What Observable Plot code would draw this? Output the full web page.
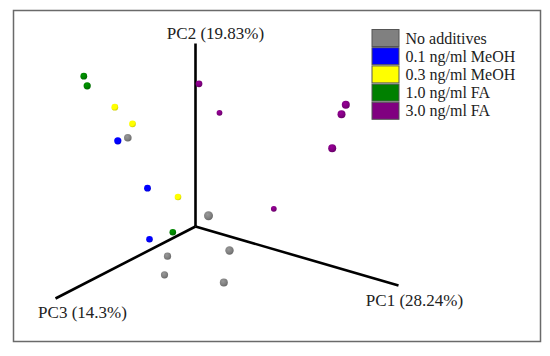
<!DOCTYPE html>
<html><head><meta charset="utf-8">
<script src="https://cdn.jsdelivr.net/npm/d3@7"></script>
<script src="https://cdn.jsdelivr.net/npm/@observablehq/plot@0.6"></script>
<style>body{margin:0;background:#fff;} svg{display:block;} svg text{font-family:"Liberation Serif","Times New Roman",Times,serif !important;}</style>
</head><body><div id="chart"></div>
<script>
// Groups and colours
const groups = ["No additives", "0.1 ng/ml MeOH", "0.3 ng/ml MeOH", "1.0 ng/ml FA", "3.0 ng/ml FA"];
const colors = ["#808080", "#0000ff", "#ffff00", "#008000", "#800080"];

// Projected PCA scores (2-D projection of PC1/PC2/PC3 space), per group
const noAdditivesX = [-67.7, 13, 34, -28, -31, 28.3];
const noAdditivesY = [88.7, 10.7, -24, -29.7, -48.3, -56];
const noAdditivesR = [3.8, 4.5, 4.2, 3.6, 3.6, 4.0];
const meoh01X = [-77.7, -48, -46];
const meoh01Y = [85.7, 38.3, -12.7];
const meoh01R = [3.6, 3.4, 3.3];
const meoh03X = [-80.7, -63, -17.5];
const meoh03Y = [119.3, 102.7, 29.5];
const meoh03R = [3.4, 3.4, 3.3];
const fa10X = [-111.7, -108.3, -22.7];
const fa10Y = [150.3, 140.7, -5.7];
const fa10R = [3.4, 3.6, 3.3];
const fa30X = [3.5, 24, 150.3, 146, 136.7, 78.3];
const fa30Y = [142.7, 113.7, 121.7, 112.3, 78.3, 17.7];
const fa30R = [3.4, 2.9, 4.0, 4.0, 4.0, 2.9];

// Principal-component axis vectors in the projection
const axisNames = ["PC1 (28.24%)", "PC2 (19.83%)", "PC3 (14.3%)"];
const axisEndX = [203, 0, -140];
const axisEndY = [-59, 183, -72];

const seriesX = [noAdditivesX, meoh01X, meoh03X, fa10X, fa30X];
const seriesY = [noAdditivesY, meoh01Y, meoh03Y, fa10Y, fa30Y];
const seriesR = [noAdditivesR, meoh01R, meoh03R, fa10R, fa30R];

const points = groups.flatMap((g, gi) => seriesX[gi].map((x, i) => ({group: g, gi, x, y: seriesY[gi][i], r: seriesR[gi][i]})));
const axes = axisNames.map((name, i) => ({name, x: axisEndX[i], y: axisEndY[i]}));
const labelOffset = [[16, -15], [20, 10], [27, -14]];
const legend = groups.map((g, i) => ({group: g, i}));

const font = "Liberation Serif";

const chart = Plot.plot({
  width: 550,
  height: 356,
  marginLeft: 13, marginRight: 10, marginTop: 10, marginBottom: 15,
  x: {domain: [-182, 345], axis: null},
  y: {domain: [-115, 216], axis: null},
  r: {type: "identity"},
  style: {background: "#fff"},
  marks: [
    Plot.frame({stroke: "#6a6a6a", strokeWidth: 1.5}),
    Plot.link(axes, {x1: 0, y1: 0, x2: "x", y2: "y", stroke: "#000", strokeWidth: 2.6, strokeLinecap: "butt"}),
    Plot.text(axes, {x: (d, i) => d.x + labelOffset[i][0], y: (d, i) => d.y + labelOffset[i][1], text: "name", fontSize: 17, fontFamily: font, fill: "#222"}),
    ...groups.map((g, gi) => Plot.dot(points.filter(p => p.gi === gi), {x: "x", y: "y", r: "r", fill: `url(#sph${gi})`, stroke: "none"})),
    Plot.rect(legend, {x1: 177, x2: 204, y1: d => 196.5 - d.i * 18.2, y2: d => 179.5 - d.i * 18.2, fill: d => colors[d.i], stroke: "#555", strokeWidth: 1}),
    Plot.text(legend, {x: 210, y: d => 188 - d.i * 18.2, text: "group", textAnchor: "start", fontSize: 16, fontFamily: font, fill: "#222"})
  ]
});

// radial gradients for the sphere-like dots
const ns = "http://www.w3.org/2000/svg";
const defs = document.createElementNS(ns, "defs");
colors.forEach((c, i) => {
  const g = document.createElementNS(ns, "radialGradient");
  g.setAttribute("id", "sph" + i);
  g.setAttribute("cx", "0.4"); g.setAttribute("cy", "0.35"); g.setAttribute("r", "0.7");
  const base = d3.color(c);
  const stops = [[0, base.brighter(0.5)], [0.6, base], [1, base.darker(0.7)]];
  stops.forEach(([o, col]) => {
    const s = document.createElementNS(ns, "stop");
    s.setAttribute("offset", o);
    s.setAttribute("stop-color", col.formatHex());
    g.appendChild(s);
  });
  defs.appendChild(g);
});
chart.insertBefore(defs, chart.firstChild);
document.getElementById("chart").appendChild(chart);
</script>
</body></html>
